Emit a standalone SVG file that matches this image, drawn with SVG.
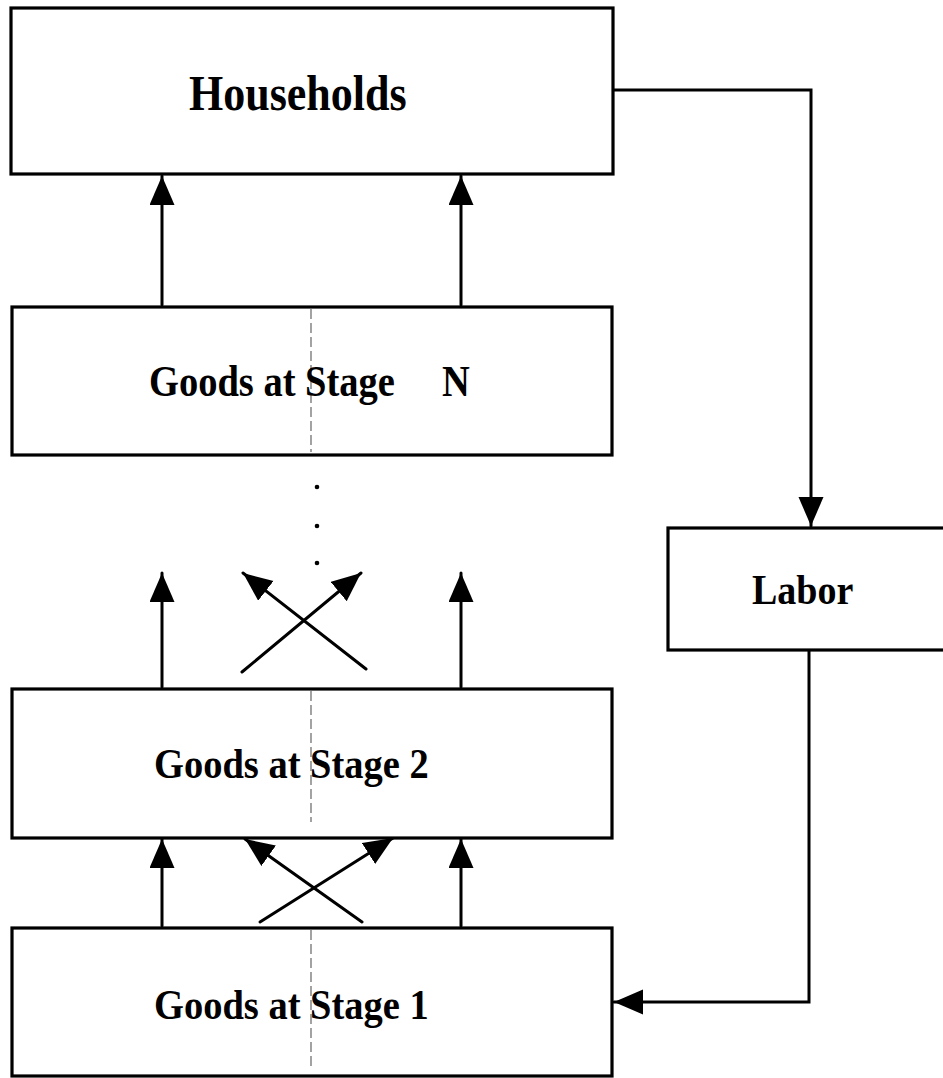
<svg xmlns="http://www.w3.org/2000/svg" width="943" height="1078" viewBox="0 0 943 1078">
<defs>
<style>
.box{fill:#fff;stroke:#000;stroke-width:3.2}
.lbl{font-family:"Liberation Serif","Times New Roman",serif;font-weight:bold;fill:#000}
.dash{stroke:#666;stroke-width:1.2;stroke-dasharray:10,4;fill:none}
.con{stroke:#000;stroke-width:3;fill:none;stroke-linecap:round}
</style>
<marker id="ah" markerUnits="userSpaceOnUse" markerWidth="30" markerHeight="26" viewBox="0 0 30 26" refX="29" refY="12.5" orient="auto">
<path d="M0,0 L29,12.5 L0,25 z" fill="#000"/>
</marker>
</defs>
<rect width="943" height="1078" fill="#fff"/>
<g id="connectors">
<polyline class="con" points="613,90 811,90 811,526" marker-end="url(#ah)"/>
<polyline class="con" points="809,650 809,1002 614,1002" marker-end="url(#ah)"/>
<line class="con" x1="162" y1="305" x2="162" y2="176" marker-end="url(#ah)"/>
<line class="con" x1="461" y1="305" x2="461" y2="176" marker-end="url(#ah)"/>
<line class="con" x1="162" y1="687" x2="162" y2="573" marker-end="url(#ah)"/>
<line class="con" x1="461" y1="687" x2="461" y2="573" marker-end="url(#ah)"/>
<line class="con" x1="242" y1="672" x2="361" y2="573" marker-end="url(#ah)"/>
<line class="con" x1="366" y1="669" x2="243" y2="573" marker-end="url(#ah)"/>
<line class="con" x1="162" y1="926" x2="162" y2="839" marker-end="url(#ah)"/>
<line class="con" x1="461" y1="926" x2="461" y2="839" marker-end="url(#ah)"/>
<line class="con" x1="260" y1="922" x2="393" y2="838" marker-end="url(#ah)"/>
<line class="con" x1="362" y1="922" x2="245" y2="839" marker-end="url(#ah)"/>
<circle cx="317" cy="487" r="2.3" fill="#000"/>
<circle cx="317" cy="526" r="2.3" fill="#000"/>
<circle cx="317" cy="563" r="2.3" fill="#000"/>
</g>
<g id="households">
<rect class="box" x="11" y="8" width="602" height="166"/>
<text class="lbl" font-size="44" transform="translate(189,110) scale(1,1.13)">Households</text>
</g>
<g id="stageN">
<rect class="box" x="12" y="307" width="600" height="148"/>
<line class="dash" x1="311" y1="309" x2="311" y2="452"/>
<text class="lbl" font-size="38.5" transform="translate(149,396) scale(1,1.14)">Goods at Stage<tspan x="293">N</tspan></text>
</g>
<g id="stage2">
<rect class="box" x="12" y="689" width="600" height="149"/>
<line class="dash" x1="311" y1="691" x2="311" y2="822"/>
<text class="lbl" font-size="38.5" transform="translate(154,778) scale(1,1.12)">Goods at Stage 2</text>
</g>
<g id="stage1">
<rect class="box" x="12" y="928" width="600" height="148"/>
<line class="dash" x1="311" y1="930" x2="311" y2="1070"/>
<text class="lbl" font-size="38.5" transform="translate(154,1019) scale(1,1.12)">Goods at Stage 1</text>
</g>
<g id="labor">
<rect class="box" x="668" y="528" width="290" height="122"/>
<text class="lbl" font-size="38" transform="translate(752,604) scale(1,1.13)">Labor</text>
</g>
</svg>
